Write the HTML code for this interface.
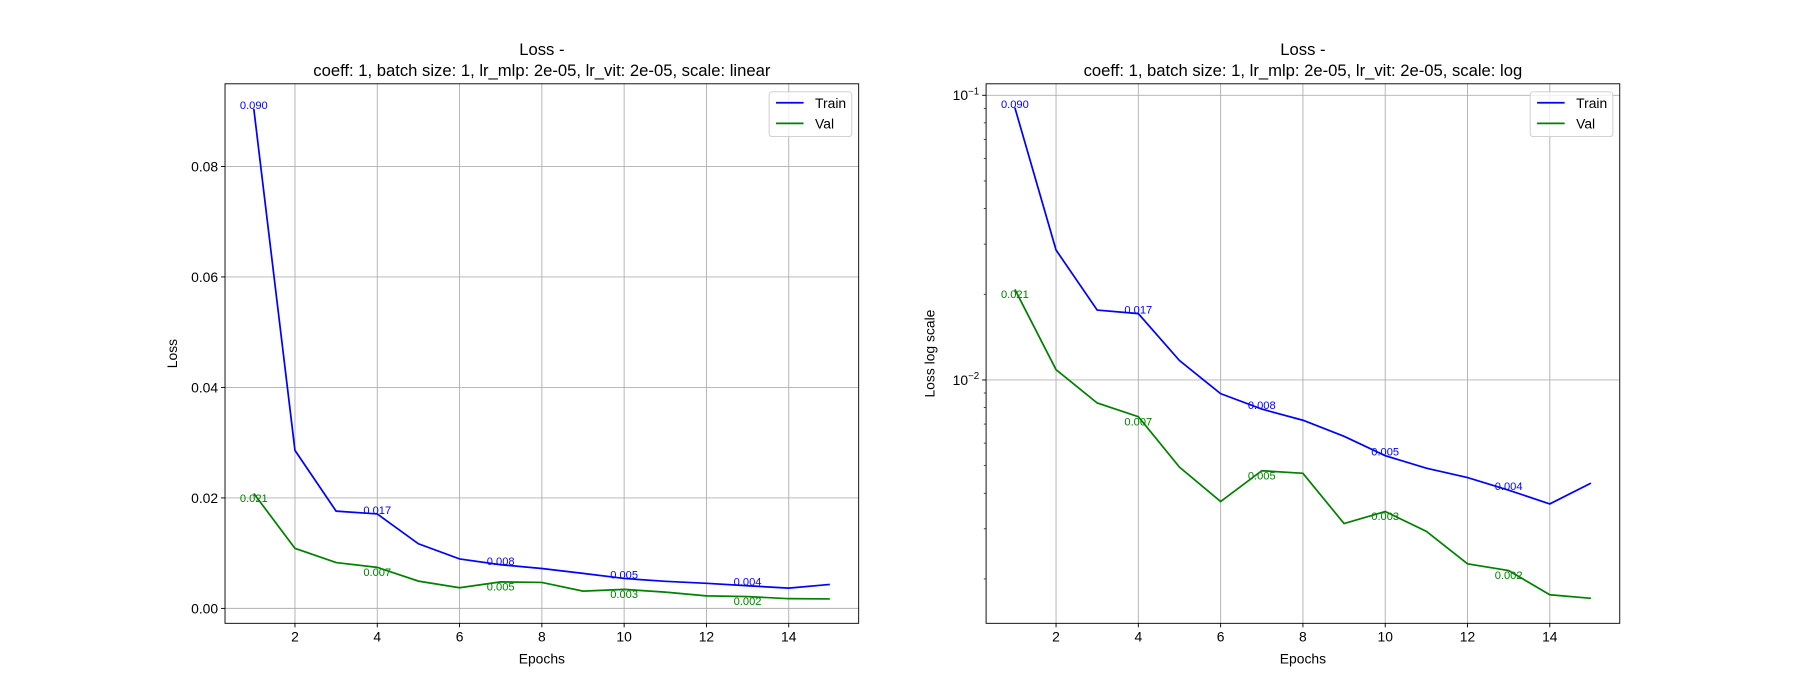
<!DOCTYPE html>
<html><head><meta charset="utf-8"><style>
html,body{margin:0;padding:0;background:#fff;}
svg{display:block;font-family:"Liberation Sans","DejaVu Sans",sans-serif;}
</style></head><body>
<svg id="chart" width="1800" height="700" viewBox="0 0 1568 609.8" xmlns="http://www.w3.org/2000/svg"></svg>
<script>
const epochs=[1,2,3,4,5,6,7,8,9,10,11,12,13,14,15];
const trainLoss=[0.0904,0.0286,0.0176,0.0171,0.0117,0.00895,0.0079,0.00722,0.00634,0.00542,0.0049,0.00454,0.0041,0.00367,0.00434];
const valLoss=[0.0208,0.01087,0.0083,0.00743,0.00494,0.00374,0.0048,0.0047,0.00313,0.00345,0.00294,0.00226,0.00214,0.00176,0.00171];
const annotEpochs=[1,4,7,10,13];
const xTicks=[2,4,6,8,10,12,14];
const yTicksLin=[0,0.02,0.04,0.06,0.08];
const yTicksLog=[0.01,0.1];

const NS="http://www.w3.org/2000/svg";
const svg=document.getElementById('chart');
function mk(tag,attrs,parent){const e=document.createElementNS(NS,tag);for(const k in attrs)e.setAttribute(k,attrs[k]);(parent||svg).appendChild(e);return e;}

function panel(px0,title2,scale,ylabel,pname){
  const L=px0,R=px0+552,T=73,B=543;
  const g=mk('g',{});
  
  
  const xs=e=>L+(e-0.3)/15.4*552;
  let ys;
  if(scale==='linear'){ys=v=>530-v/0.02*96.25;}
  else{ys=v=>83-(Math.log10(v)+1)*248;}
  xTicks.forEach(t=>{
    const gl=mk('line',{x1:xs(t),x2:xs(t),y1:T,y2:B,stroke:'#b0b0b0','stroke-width':0.8},g);
    
    mk('line',{x1:xs(t),x2:xs(t),y1:B,y2:B+3.5,stroke:'#000','stroke-width':0.8},g);
    const tx=mk('text',{x:xs(t),y:B+16,'text-anchor':'middle','font-size':12.1},g);tx.textContent=t;
    
  });
  const yt=scale==='linear'?yTicksLin:yTicksLog;
  yt.forEach(t=>{
    const y=ys(t);
    const gl=mk('line',{x1:L,x2:R,y1:y,y2:y,stroke:'#b0b0b0','stroke-width':0.8},g);
    
    mk('line',{x1:L-3.5,x2:L,y1:y,y2:y,stroke:'#000','stroke-width':0.8},g);
    const tx=mk('text',{x:L-6,y:y+4.3,'text-anchor':'end','font-size':12.1},g);
    
    if(scale==='linear')tx.textContent=t.toFixed(2);
    else{tx.textContent='10';const s=mk('tspan',{dy:-5,'font-size':8.5},tx);s.textContent=t===0.1?'−1':'−2';}
  });
  if(scale==='log'){
    const minors=[0.002,0.003,0.004,0.005,0.006,0.007,0.008,0.009,0.02,0.03,0.04,0.05,0.06,0.07,0.08,0.09];
    minors.forEach(m=>{const y=ys(m);if(y<B&&y>T)mk('line',{x1:L-2,x2:L,y1:y,y2:y,stroke:'#000','stroke-width':0.6},g);});
  }
  const series=[[trainLoss,'#0000ff','train-line',0],[valLoss,'#008000','val-line',7.5]];
  series.forEach(([vals,col,nm,off])=>{
    const p=mk('polyline',{points:epochs.map((e,i)=>xs(e)+','+ys(vals[i])).join(' '),fill:'none',stroke:col,'stroke-width':1.5},g);
    
    annotEpochs.forEach(e=>{
      const i=epochs.indexOf(e);
      const t=mk('text',{x:xs(e),y:ys(vals[i])+off,'text-anchor':'middle','font-size':9.7,fill:col},g);
      t.textContent=vals[i].toFixed(3);
      
    });
  });
  mk('rect',{x:L,y:T,width:552,height:B-T,fill:'none',stroke:'#000','stroke-width':0.8},g);
  const t1=mk('text',{x:(L+R)/2,y:48,'text-anchor':'middle','font-size':14.5},g);t1.textContent='Loss -';
  
  const t2=mk('text',{x:(L+R)/2,y:66,'text-anchor':'middle','font-size':14.5},g);t2.textContent=title2;
  
  const xl=mk('text',{x:(L+R)/2,y:578,'text-anchor':'middle','font-size':12.1},g);xl.textContent='Epochs';
  
  const ylx=scale==='linear'?L-42:L-45;
  const yl=mk('text',{x:ylx,y:(T+B)/2,'text-anchor':'middle','font-size':12.1,transform:`rotate(-90 ${ylx} ${(T+B)/2})`},g);yl.textContent=ylabel;
  
  const lg=mk('g',{},g);
  
  mk('rect',{x:R-78,y:80,width:72,height:39,rx:2.5,fill:'#fff','fill-opacity':0.8,stroke:'#cccccc','stroke-width':0.8},lg);
  [['Train','#0000ff',94],['Val','#008000',112]].forEach(([n,c,y])=>{
    const e=mk('g',{},lg);
    
    mk('line',{x1:R-72,x2:R-48,y1:y-4.5,y2:y-4.5,stroke:c,'stroke-width':1.5},e);
    const t=mk('text',{x:R-38,y:y,'font-size':12.1},e);t.textContent=n;
  });
}
panel(196,'coeff: 1, batch size: 1, lr_mlp: 2e-05, lr_vit: 2e-05, scale: linear','linear','Loss','linear-panel');
panel(859,'coeff: 1, batch size: 1, lr_mlp: 2e-05, lr_vit: 2e-05, scale: log','log','Loss log scale','log-panel');
</script>
</body></html>
